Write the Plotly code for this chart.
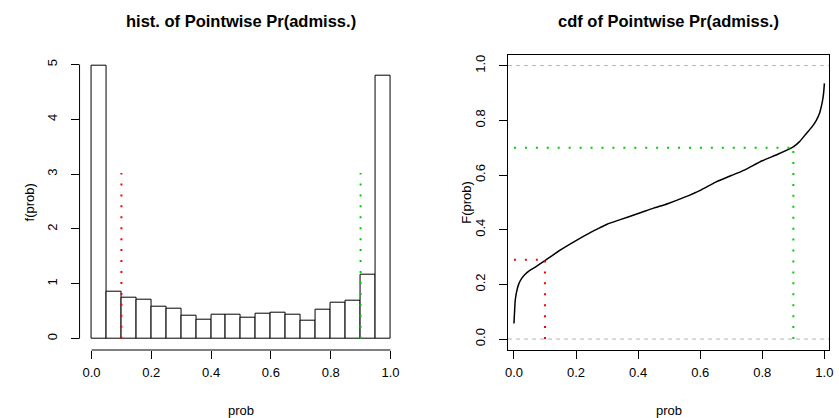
import plotly.graph_objects as go

# ---------------- data ----------------
bin_left = [0.00, 0.05, 0.10, 0.15, 0.20, 0.25, 0.30, 0.35, 0.40, 0.45,
            0.50, 0.55, 0.60, 0.65, 0.70, 0.75, 0.80, 0.85, 0.90, 0.95]
density = [4.98, 0.86, 0.74, 0.71, 0.58, 0.55, 0.41, 0.35, 0.44, 0.44,
           0.39, 0.46, 0.48, 0.43, 0.33, 0.52, 0.66, 0.69, 1.16, 4.80]
bin_width = 0.05

cdf_x = [0.000, 0.001, 0.002, 0.004, 0.008, 0.015, 0.025, 0.037, 0.050, 0.069,
         0.085, 0.100, 0.150, 0.200, 0.250, 0.282, 0.300, 0.340, 0.400, 0.450,
         0.495, 0.550, 0.600, 0.650, 0.700, 0.740, 0.800, 0.850, 0.900, 0.920,
         0.942, 0.960, 0.974, 0.985, 0.990, 0.995, 0.998, 1.000]
cdf_y = [0.057, 0.080, 0.100, 0.140, 0.170, 0.200, 0.222, 0.238, 0.250, 0.263,
         0.276, 0.287, 0.326, 0.360, 0.392, 0.410, 0.420, 0.436, 0.459, 0.479,
         0.495, 0.519, 0.544, 0.574, 0.598, 0.617, 0.652, 0.676, 0.703, 0.722,
         0.752, 0.776, 0.800, 0.828, 0.850, 0.878, 0.905, 0.935]

low_cut, low_F = 0.1, 0.29
high_cut, high_F = 0.9, 0.70
hist_line_top = 3

x_ticks = [0.0, 0.2, 0.4, 0.6, 0.8, 1.0]
x_ticklabels = ["0.0", "0.2", "0.4", "0.6", "0.8", "1.0"]
hist_y_ticks = [0, 1, 2, 3, 4, 5]
cdf_y_ticks = [0.0, 0.2, 0.4, 0.6, 0.8, 1.0]
cdf_y_ticklabels = ["0.0", "0.2", "0.4", "0.6", "0.8", "1.0"]

RED = "#FF0000"
GREEN = "#00CD00"
FONT = "Liberation Sans, Arial, sans-serif"
DOT = "2px,8.94px"

W, H = 839, 418
fig = go.Figure()

# histogram bars
fig.add_trace(go.Bar(
    x=[b + bin_width / 2 for b in bin_left], y=density, width=bin_width,
    marker=dict(color="white", line=dict(color="black", width=1)),
    xaxis="x", yaxis="y", showlegend=False, hoverinfo="x+y"))

# vertical cut lines on histogram
for cut, col in [(low_cut, RED), (high_cut, GREEN)]:
    fig.add_trace(go.Scatter(
        x=[cut, cut], y=[0, hist_line_top + 0.02], mode="lines",
        line=dict(color=col, width=2, dash=DOT),
        xaxis="x", yaxis="y", showlegend=False, hoverinfo="skip"))

# cdf curve
fig.add_trace(go.Scatter(
    x=cdf_x, y=cdf_y, mode="lines",
    line=dict(color="black", width=1.5, shape="spline", smoothing=0.6),
    xaxis="x2", yaxis="y2", showlegend=False))

# cdf cut lines
for cut, F, col in [(low_cut, low_F, RED), (high_cut, high_F, GREEN)]:
    fig.add_trace(go.Scatter(
        x=[0, cut], y=[F, F], mode="lines",
        line=dict(color=col, width=2, dash=DOT),
        xaxis="x2", yaxis="y2", showlegend=False, hoverinfo="skip"))
    fig.add_trace(go.Scatter(
        x=[cut, cut], y=[0, F], mode="lines",
        line=dict(color=col, width=2, dash=DOT),
        xaxis="x2", yaxis="y2", showlegend=False, hoverinfo="skip"))

shapes = []
# gray reference lines at 0 and 1 on cdf
for yv in [0, 1]:
    shapes.append(dict(type="line", xref="x2 domain", yref="y2",
                       x0=0, x1=1, y0=yv, y1=yv,
                       line=dict(color="#b3b3b3", width=1, dash="4px,4px"),
                       layer="below"))
# R-style axis lines for histogram (span only first..last tick)
shapes.append(dict(type="line", xref="x", yref="y domain",
                   x0=x_ticks[0], x1=x_ticks[-1], y0=0, y1=0,
                   line=dict(color="black", width=1)))
shapes.append(dict(type="line", xref="x domain", yref="y",
                   x0=0, x1=0, y0=hist_y_ticks[0], y1=hist_y_ticks[-1],
                   line=dict(color="black", width=1)))

def px_x(p):
    return p / W

def px_y(p):
    return 1 - p / H

yd = [px_y(350), px_y(54.7)]
axis_common = dict(ticks="outside", ticklen=8, tickwidth=1, tickcolor="black",
                   showgrid=False, zeroline=False,
                   tickfont=dict(family=FONT, size=13, color="black"))

def ann(text, x, y, size, angle=0):
    return dict(text=text, x=px_x(x), y=px_y(y), xref="paper", yref="paper",
                xanchor="center", yanchor="middle", showarrow=False,
                textangle=angle, font=dict(family=FONT, size=size, color="black"))

fig.update_layout(
    width=W, height=H,
    margin=dict(l=0, r=0, t=0, b=0),
    paper_bgcolor="white", plot_bgcolor="white",
    bargap=0,
    font=dict(family=FONT, size=13, color="black"),
    xaxis=dict(domain=[px_x(77.2), px_x(402.8)], range=[-0.04, 1.04],
               tickvals=x_ticks, ticktext=x_ticklabels, showline=False,
               ticklabelstandoff=2, anchor="y", **axis_common),
    yaxis=dict(domain=yd, range=[-0.2072, 5.1792],
               tickvals=hist_y_ticks, showline=False, tickangle=-90,
               ticklabelstandoff=8, anchor="x", **axis_common),
    xaxis2=dict(domain=[px_x(509.3), px_x(833.3)], range=[-0.019, 1.016],
                tickvals=x_ticks, ticktext=x_ticklabels, showline=True,
                linecolor="black", linewidth=1, mirror=True,
                ticklabelstandoff=2, anchor="y2", **axis_common),
    yaxis2=dict(domain=yd, range=[-0.04, 1.04],
                tickvals=cdf_y_ticks, ticktext=cdf_y_ticklabels, showline=True,
                linecolor="black", linewidth=1, mirror=True, tickangle=-90,
                ticklabelstandoff=9, anchor="x2", **axis_common),
    shapes=shapes,
    annotations=[
        ann("<b>hist. of Pointwise Pr(admiss.)</b>", 240, 20.7, 16.5),
        ann("<b>cdf of Pointwise Pr(admiss.)</b>", 671.5, 20.7, 16.5),
        ann("prob", 240, 410, 13),
        ann("prob", 671.5, 410, 13),
        ann("f(prob)", 26.7, 202, 13, -90),
        ann("F(prob)", 466.7, 202, 13, -90),
    ],
)

fig.write_html("out.html",
               config={"displayModeBar": False},
               post_script="document.body.style.margin='0px';"
                           "document.body.style.overflow='hidden';")
